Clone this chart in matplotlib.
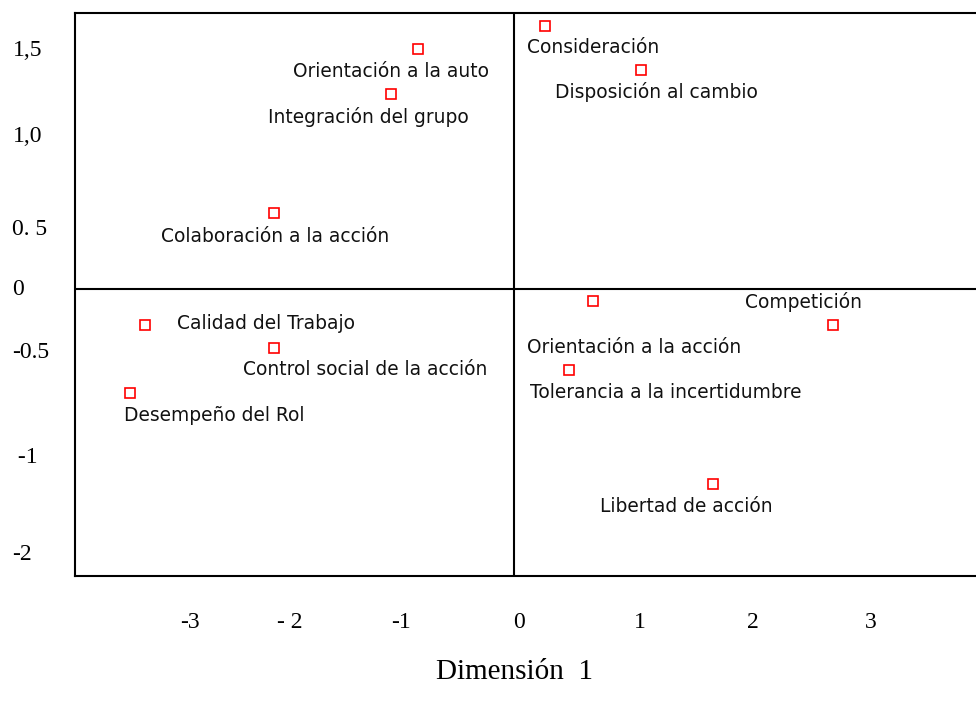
import matplotlib
matplotlib.use("Agg")
import matplotlib.pyplot as plt

# ---- data ----
labels = [
    "Orientación a la auto", "Integración del grupo", "Colaboración a la acción",
    "Consideración", "Disposición al cambio", "Calidad del Trabajo",
    "Control social de la acción", "Desempeño del Rol", "Orientación a la acción",
    "Competición", "Tolerancia a la incertidumbre", "Libertad de acción",
]
dim1 = [-0.81, -1.04, -2.03, 0.26, 1.08, -3.13, -2.03, -3.25, 0.67, 2.70, 0.47, 1.69]
dim2 = [1.55, 1.26, 0.49, 1.70, 1.41, -0.23, -0.38, -0.67, -0.08, -0.23, -0.52, -1.26]

xtick_values = [-2.746, -1.898, -0.958, 0.042, 1.068, 2.025, 3.025]
xtick_labels = ["-3", "- 2", "-1", "0", "1", "2", "3"]
ytick_values = [1.555, 1.0, 0.40, 0.013, -0.394, -1.071, -1.697]
ytick_labels = ["1,5", "1,0", "0. 5", "0", "-0.5", " -1", "-2"]
xlabel = "Dimensión  1"

# label offsets (pixels, y positive downward) relative to each marker
label_dx = [-27.5, -22.5, 1, 48.5, 15, 121.5, 91, 83.5, 41.5, -29.5, 96, -27]
label_dy = [22.5, 23, 23, 22, 22, -1, 22, 23, 46, -23, 23, 22]

W, H = 976, 702
fig = plt.figure(figsize=(W / 100, H / 100), dpi=100)
ax = fig.add_axes([75 / W, (H - 576) / H, (W - 75) / W, (576 - 13) / H])

ax.set_xlim(-3.72, 3.915)
ax.set_ylim(-1.852, 1.781)

ax.plot(dim1, dim2, linestyle="none", marker="s", markersize=7.5,
        markerfacecolor="white", markeredgecolor="#ff0000", markeredgewidth=1.2,
        zorder=3)

for name, x, y, dx, dy in zip(labels, dim1, dim2, label_dx, label_dy):
    ax.annotate(name, (x, y), xytext=(dx, -dy), textcoords="offset pixels",
                ha="center", va="center", fontsize=13.4, color="#111111",
                family="DejaVu Sans")

ax.axhline(0, color="black", linewidth=1.5, zorder=2)
ax.axvline(0, color="black", linewidth=1.5, zorder=2)

for s in ["left", "top", "bottom"]:
    ax.spines[s].set_linewidth(1.5)
ax.spines["right"].set_visible(False)

ax.set_xticks(xtick_values)
ax.set_xticklabels(xtick_labels, family="Liberation Serif", fontsize=17)
ax.set_yticks(ytick_values)
ax.set_yticklabels(ytick_labels, family="Liberation Serif", fontsize=17)
ax.tick_params(axis="both", length=0)
ax.tick_params(axis="x", pad=26)
ax.tick_params(axis="y", pad=45)
for t in ax.get_yticklabels():
    t.set_horizontalalignment("left")

fig.text(515 / W, 1 - 672 / H, xlabel, ha="center", va="center",
         family="Liberation Serif", fontsize=21)

fig.savefig("out.png", dpi=100)
